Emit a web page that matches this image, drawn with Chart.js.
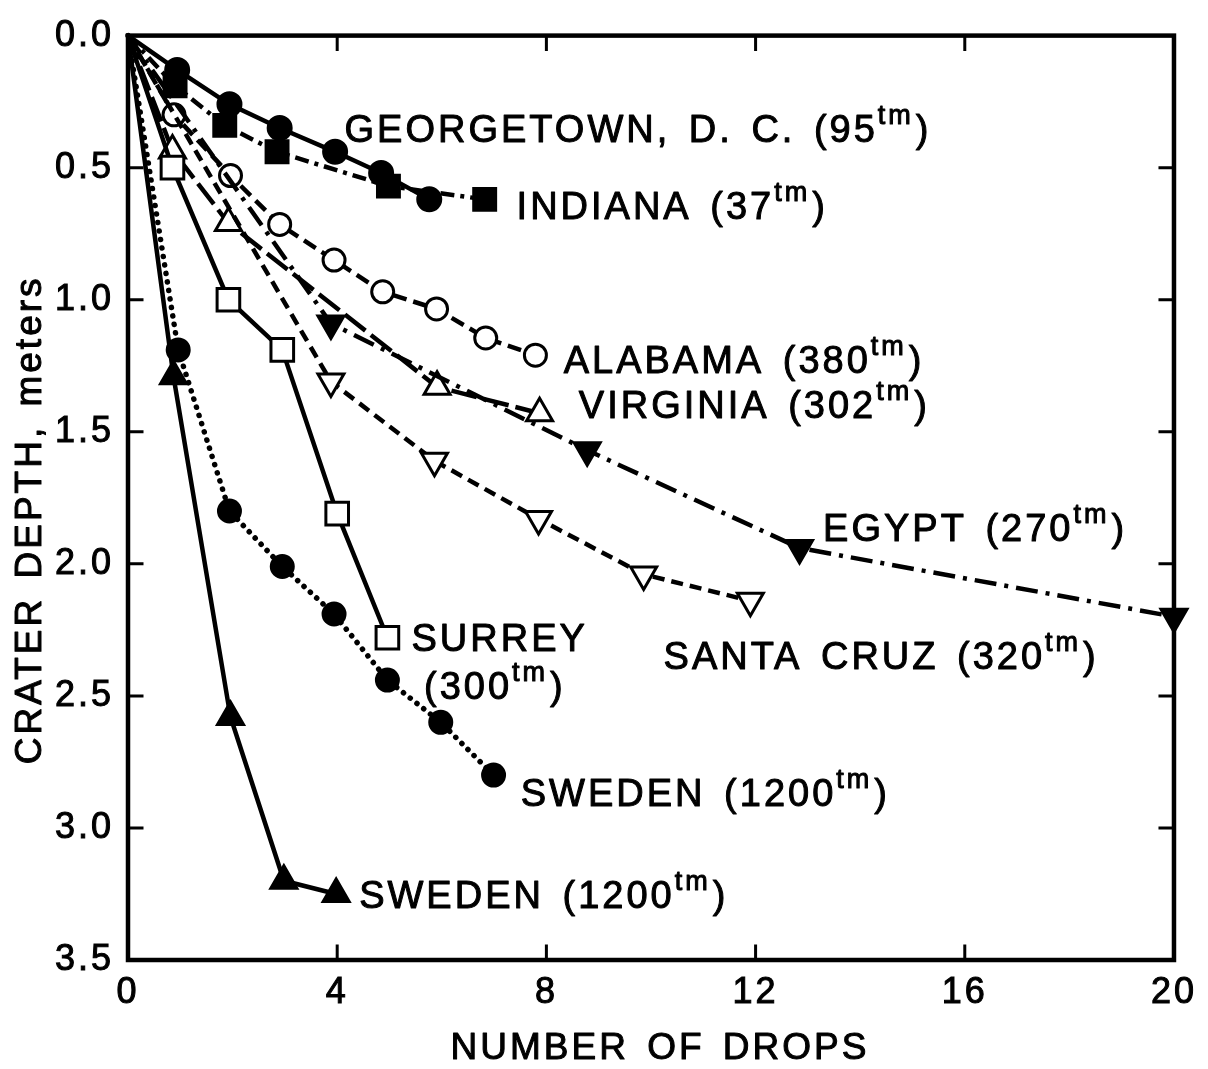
<!DOCTYPE html>
<html>
<head>
<meta charset="utf-8">
<title>Crater depth vs number of drops</title>
<script src="https://cdn.jsdelivr.net/npm/chart.js@4.4.0/dist/chart.umd.min.js"></script>
<style>
  html, body { margin: 0; padding: 0; background: #fff; }
  #wrap { width: 1208px; height: 1069px; }
</style>
</head>
<body>
<div id="wrap"><canvas id="craterChart" width="1208" height="1069"></canvas></div>
<script>
// crater depth (m) after each drop, one pair of arrays per site
const georgetownDrops = [0, 0.94, 1.94, 2.9, 3.96, 4.84, 5.76];
const georgetownDepth = [0, 0.13, 0.26, 0.35, 0.44, 0.52, 0.62];

const indianaDrops = [0, 0.9, 1.85, 2.85, 4.98, 6.82];
const indianaDepth = [0, 0.19, 0.34, 0.44, 0.57, 0.62];

const alabamaDrops = [0, 0.88, 1.96, 2.9, 3.94, 4.87, 5.9, 6.84, 7.79];
const alabamaDepth = [0, 0.30, 0.53, 0.715, 0.85, 0.97, 1.035, 1.145, 1.21];

const virginiaDrops = [0, 0.85, 1.92, 5.91, 7.87];
const virginiaDepth = [0, 0.435, 0.71, 1.33, 1.43];

const egyptDrops = [0, 3.88, 8.78, 12.84, 20];
const egyptDepth = [0, 1.09, 1.57, 1.94, 2.2];

const santaCruzDrops = [0, 3.88, 5.86, 7.85, 9.86, 11.9];
const santaCruzDepth = [0, 1.31, 1.61, 1.83, 2.04, 2.14];

const surreyDrops = [0, 0.85, 1.92, 2.95, 4.0, 4.96];
const surreyDepth = [0, 0.5, 1.0, 1.19, 1.81, 2.28];

const swedenCircleDrops = [0, 0.96, 1.94, 2.95, 3.94, 4.96, 5.98, 6.99];
const swedenCircleDepth = [0, 1.19, 1.80, 2.01, 2.19, 2.44, 2.60, 2.80];

const swedenTriangleDrops = [0, 0.87, 1.96, 2.98, 3.98];
const swedenTriangleDepth = [0, 1.29, 2.58, 3.2, 3.25];

const xTicks = [0, 4, 8, 12, 16, 20];
const yTicks = [0, 0.5, 1.0, 1.5, 2.0, 2.5, 3.0, 3.5];

const xTitle = 'NUMBER OF DROPS';
const yTitle = 'CRATER DEPTH, meters';

// site captions: text before the superscript, and where the caption sits (data units)
const siteLabels = [
  { text: 'GEORGETOWN, D. C. (95', x: 4.14, y: 0.35 },
  { text: 'INDIANA (37', x: 7.43, y: 0.645 },
  { text: 'ALABAMA (380', x: 8.33, y: 1.225 },
  { text: 'VIRGINIA (302', x: 8.62, y: 1.395 },
  { text: 'EGYPT (270', x: 13.29, y: 1.864 },
  { text: 'SANTA CRUZ (320', x: 10.24, y: 2.347 },
  { text: 'SURREY', x: 5.42, y: 2.28, plain: true },
  { text: '(300', x: 5.66, y: 2.46 },
  { text: 'SWEDEN (1200', x: 7.51, y: 2.865 },
  { text: 'SWEDEN (1200', x: 4.42, y: 3.253 }
];

const FONT = '"Liberation Sans", Arial, Helvetica, sans-serif';
const INK = '#000';

function toPoints(xs, ys) {
  return xs.map((x, i) => ({ x: x, y: ys[i] }));
}

// first point of every series is the origin and carries no marker
function series(xs, ys, style) {
  const r = style.radius;
  return Object.assign({
    data: toPoints(xs, ys),
    showLine: true,
    borderColor: INK,
    borderWidth: 4.5,
    pointBorderColor: INK,
    pointBorderWidth: 3,
    pointRadius: ctx => ctx.dataIndex === 0 ? 0 : r,
    pointHoverRadius: ctx => ctx.dataIndex === 0 ? 0 : r,
    clip: false,
    tension: 0
  }, style);
}

const datasets = [
  series(swedenTriangleDrops, swedenTriangleDepth, { pointStyle: 'triangle', radius: 15, pointBackgroundColor: INK }),
  series(swedenCircleDrops, swedenCircleDepth, { pointStyle: 'circle', radius: 11, pointBackgroundColor: INK, borderWidth: 5.5, borderDash: [0.1, 8.5], borderCapStyle: 'round' }),
  series(surreyDrops, surreyDepth, { pointStyle: 'rect', radius: 16, pointBackgroundColor: '#fff' }),
  series(santaCruzDrops, santaCruzDepth, { pointStyle: 'triangle', rotation: 180, radius: 15, pointBackgroundColor: '#fff', borderDash: [12, 7] }),
  series(egyptDrops, egyptDepth, { pointStyle: 'triangle', rotation: 180, radius: 15, pointBackgroundColor: INK, borderDash: [22, 8, 4, 8] }),
  series(virginiaDrops, virginiaDepth, { pointStyle: 'triangle', radius: 15, pointBackgroundColor: '#fff', borderDash: [26, 7] }),
  series(alabamaDrops, alabamaDepth, { pointStyle: 'circle', radius: 11, pointBackgroundColor: '#fff', borderDash: [14, 7] }),
  series(indianaDrops, indianaDepth, { pointStyle: 'rect', radius: 15.5, pointBackgroundColor: INK, borderDash: [14, 6, 4, 6] }),
  series(georgetownDrops, georgetownDepth, { pointStyle: 'circle', radius: 11.5, pointBackgroundColor: INK })
];

// canvas letter spacing; resizing resets the context so it is re-applied before layout and drawing
const spacing = {
  id: 'spacing',
  beforeUpdate(chart) { chart.ctx.letterSpacing = '3px'; },
  beforeDraw(chart) { chart.ctx.letterSpacing = '3px'; }
};

// box around the plot with inward tick marks on all four sides
const frame = {
  id: 'frame',
  afterDatasetsDraw(chart) {
    const { ctx, chartArea: a, scales } = chart;
    const len = 14;
    ctx.save();
    ctx.strokeStyle = INK;
    ctx.lineWidth = 4.5;
    ctx.lineCap = 'square';
    ctx.strokeRect(a.left, a.top, a.right - a.left, a.bottom - a.top);
    ctx.lineWidth = 3;
    ctx.beginPath();
    xTicks.slice(1, -1).forEach(v => {
      const px = scales.x.getPixelForValue(v);
      ctx.moveTo(px, a.top); ctx.lineTo(px, a.top + len);
      ctx.moveTo(px, a.bottom); ctx.lineTo(px, a.bottom - len);
    });
    yTicks.slice(1, -1).forEach(v => {
      const py = scales.y.getPixelForValue(v);
      ctx.moveTo(a.left, py); ctx.lineTo(a.left + len, py);
      ctx.moveTo(a.right, py); ctx.lineTo(a.right - len, py);
    });
    ctx.stroke();
    ctx.restore();
  }
};

// axis titles and site captions (with a raised "tm"); a thin outline thickens the regular face a little
const captions = {
  id: 'captions',
  afterDraw(chart) {
    const { ctx, scales, chartArea: a } = chart;
    const main = '38px ' + FONT;
    const sup = '27px ' + FONT;
    const put = (s, x, y) => { ctx.fillText(s, x, y); ctx.strokeText(s, x, y); };
    ctx.save();
    ctx.fillStyle = INK;
    ctx.strokeStyle = INK;
    ctx.lineWidth = 1;
    ctx.lineJoin = 'round';
    ctx.textBaseline = 'alphabetic';
    ctx.letterSpacing = '3px';
    ctx.wordSpacing = '5px';

    ctx.font = '37px ' + FONT;
    ctx.textAlign = 'center';
    put(xTitle, (a.left + a.right) / 2 + 9, 1059);
    ctx.save();
    ctx.translate(41, (a.top + a.bottom) / 2 + 22);
    ctx.rotate(-Math.PI / 2);
    put(yTitle, 0, 0);
    ctx.restore();

    ctx.textAlign = 'left';
    siteLabels.forEach(l => {
      const px = scales.x.getPixelForValue(l.x);
      const base = scales.y.getPixelForValue(l.y) + 13.5;
      ctx.font = main;
      put(l.text, px, base);
      if (l.plain) return;
      let w = ctx.measureText(l.text).width;
      ctx.font = sup;
      put('tm', px + w, base - 18);
      w += ctx.measureText('tm').width + 2;
      ctx.font = main;
      put(')', px + w, base);
    });
    ctx.restore();
  }
};

const tickFont = { family: FONT, size: 36 };

new Chart(document.getElementById('craterChart'), {
  type: 'scatter',
  data: { datasets: datasets },
  plugins: [spacing, frame, captions],
  options: {
    responsive: false,
    animation: false,
    events: [],
    layout: { padding: { top: 25, right: 31, left: 0, bottom: 0 } },
    plugins: {
      legend: { display: false },
      tooltip: { enabled: false }
    },
    scales: {
      x: {
        type: 'linear',
        min: 0,
        max: 20,
        afterBuildTicks: s => { s.ticks = xTicks.map(v => ({ value: v })); },
        afterFit: s => { s.height = 109; },
        grid: { display: false, drawTicks: false },
        border: { display: false },
        ticks: { padding: 11, color: INK, font: tickFont, textStrokeColor: INK, textStrokeWidth: 1, maxRotation: 0, autoSkip: false }
      },
      y: {
        type: 'linear',
        reverse: true,
        min: 0,
        max: 3.5,
        afterBuildTicks: s => { s.ticks = yTicks.map(v => ({ value: v })); },
        afterFit: s => { s.width = 128; },
        grid: { display: false, drawTicks: false },
        border: { display: false },
        ticks: { padding: 14, color: INK, font: tickFont, textStrokeColor: INK, textStrokeWidth: 1, autoSkip: false, callback: v => v.toFixed(1) }
      }
    }
  }
});
</script>
</body>
</html>
